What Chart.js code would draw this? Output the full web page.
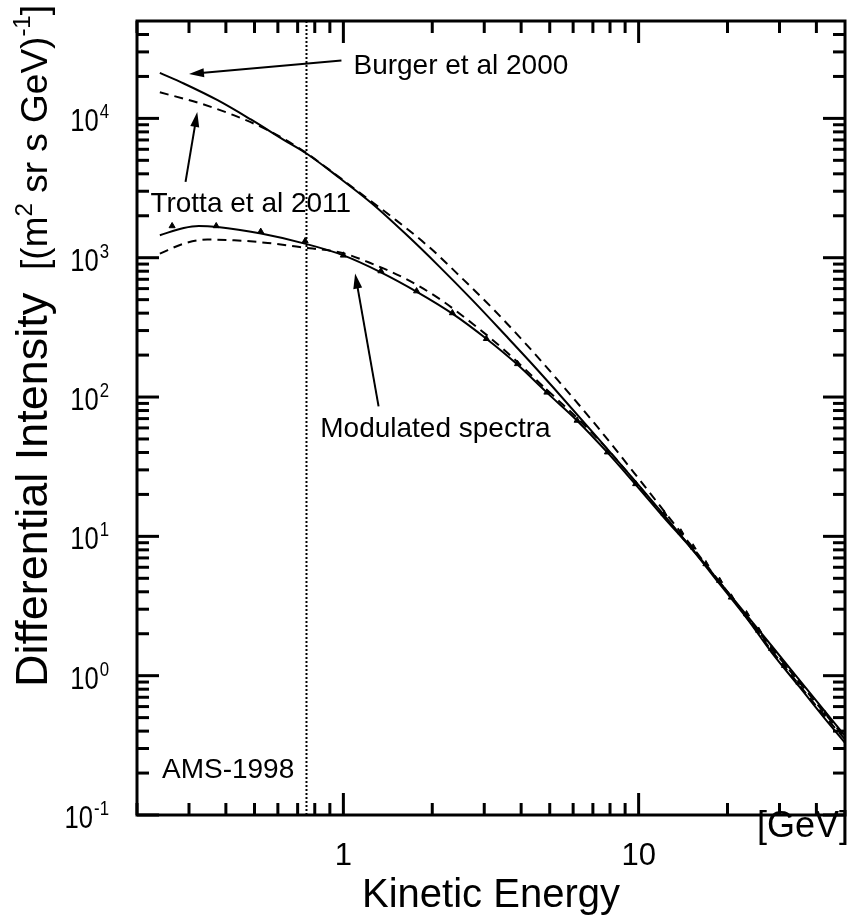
<!DOCTYPE html>
<html lang="en">
<head>
<meta charset="UTF-8">
<title>Differential Intensity vs Kinetic Energy</title>
<script src="https://cdn.jsdelivr.net/npm/chart.js"></script>
<style>
  html, body { margin: 0; padding: 0; background: #fff; }
  #wrap { width: 852px; height: 920px; }
</style>
</head>
<body>
<div id="wrap"><canvas id="spectra" width="852" height="920"></canvas></div>
<script>
// Values. Energy in GeV, intensity in (m^2 sr s GeV)^-1
const burgerE   = [0.239, 0.288, 0.375, 0.486, 0.632, 0.75, 0.96, 1.25, 1.62, 2.11, 2.74, 3.56, 4.28, 5.14, 7.62, 9.9, 12.2, 18.6, 28.2, 42.9, 50];
const burgerLIS = [21200, 17800, 13500, 9820, 6960, 5600, 3800, 2450, 1490, 867, 494, 274, 180, 117, 45.4, 23.9, 14.2, 4.83, 1.64, 0.55, 0.37];

const trottaE   = [0.239, 0.328, 0.427, 0.555, 0.711, 0.9, 1.125, 1.46, 1.95, 2.53, 3.21, 4.17, 5.28, 7.23, 9.9, 12.5, 18.6, 28.2, 42.9, 50];
const trottaLIS = [15400, 12800, 10500, 8220, 6080, 4250, 2970, 1960, 1194, 708, 430, 238, 135, 61.5, 26.7, 14.2, 4.86, 1.58, 0.53, 0.36];

const burgerModE = [0.239, 0.288, 0.324, 0.375, 0.526, 0.74, 1.0, 1.335, 1.78, 2.34, 3.05, 3.86, 4.88, 6.18, 7.82, 9.77, 12.2, 15.3, 18.8, 23.2, 28.2, 34.9, 42.8, 50];
const burgerMod  = [1450, 1635, 1690, 1660, 1490, 1262, 1040, 789, 567, 397, 262, 173, 108, 67.9, 40.2, 23.5, 13.6, 7.9, 4.55, 2.6, 1.47, 0.84, 0.49, 0.33];

const trottaModE = [0.239, 0.288, 0.346, 0.427, 0.555, 0.711, 1.0, 1.217, 1.62, 2.11, 2.74, 3.47, 4.88, 6.18, 7.82, 9.77, 12.2, 18.8, 28.2, 42.8, 50];
const trottaMod  = [1070, 1262, 1350, 1334, 1276, 1194, 1075, 927, 708, 508, 336, 222, 113, 71, 42.5, 24.5, 14.0, 4.7, 1.52, 0.51, 0.35];

// AMS-1998 proton data
const amsE    = [0.263, 0.371, 0.525, 0.742, 1.0, 1.34, 1.77, 2.34, 3.05, 3.89, 4.89, 6.19, 7.84, 9.77, 12.2, 13.9, 15.3, 16.9, 18.8, 20.6, 23.2, 25.5, 28.2, 31.2, 34.9, 42.8];
const amsFlux = [1690, 1690, 1540, 1318, 1040, 802, 576, 401, 262, 173, 108, 67.9, 40.2, 23.8, 14.5, 10.7, 8.35, 6.34, 4.81, 3.65, 2.77, 2.11, 1.56, 1.18, 0.895, 0.53];

const cutoffE = 0.75;   // dotted vertical line

// axis ticks
const xMajor = [1, 10];
const xMajorLabels = ['1', '10'];
const xMinor = [0.2, 0.3, 0.4, 0.5, 0.6, 0.7, 0.8, 0.9, 2, 3, 4, 5, 6, 7, 8, 9, 20, 30, 40];
const yMajor = [0.1, 1, 10, 100, 1000, 10000];
const yExponents = ['-1', '0', '1', '2', '3', '4'];
const yMinorMult = [2, 3, 4, 5, 6, 7, 8, 9];

// text notes: text anchor and arrow (from -> to), all in data units
const notes = [
  { text: 'Burger et al 2000', at: [1.082, 20800], from: [0.985, 26000], to: [0.300, 20800] },
  { text: 'Trotta et al 2011', at: [0.222, 2130], from: [0.292, 3500], to: [0.320, 11100] },
  { text: 'Modulated spectra', at: [0.835, 51.3], from: [1.316, 85.6], to: [1.096, 769] },
  { text: 'AMS-1998', at: [0.243, 0.185] }
];

const FONT = '"Liberation Sans", Arial, Helvetica, sans-serif';

function pts(xs, ys) {
  return xs.map((x, i) => ({ x: x, y: ys[i] }));
}

function arrow(ctx, x1, y1, x2, y2) {
  const a = Math.atan2(y2 - y1, x2 - x1);
  const len = 15, half = 4.5;
  ctx.beginPath();
  ctx.moveTo(x1, y1);
  ctx.lineTo(x2 - Math.cos(a) * len * 0.8, y2 - Math.sin(a) * len * 0.8);
  ctx.stroke();
  ctx.beginPath();
  ctx.moveTo(x2, y2);
  ctx.lineTo(x2 - Math.cos(a) * len - Math.sin(a) * half, y2 - Math.sin(a) * len + Math.cos(a) * half);
  ctx.lineTo(x2 - Math.cos(a) * len + Math.sin(a) * half, y2 - Math.sin(a) * len - Math.cos(a) * half);
  ctx.closePath();
  ctx.fill();
}

const extras = {
  id: 'extras',
  beforeDatasetsDraw(chart) {
    const { ctx, chartArea: ca, scales: { x } } = chart;
    const px = x.getPixelForValue(cutoffE);
    ctx.save();
    ctx.strokeStyle = '#000';
    ctx.lineWidth = 2;
    ctx.setLineDash([2, 2]);
    ctx.beginPath();
    ctx.moveTo(px, ca.top);
    ctx.lineTo(px, ca.bottom);
    ctx.stroke();
    ctx.restore();
  },
  afterDraw(chart) {
    const { ctx, chartArea: ca, scales: { x, y } } = chart;
    ctx.save();
    ctx.strokeStyle = '#000';
    ctx.fillStyle = '#000';
    ctx.lineWidth = 3;

    // frame
    ctx.strokeRect(ca.left, ca.top, ca.right - ca.left, ca.bottom - ca.top);

    // inward ticks on all four sides
    const tick = (x1, y1, x2, y2) => { ctx.beginPath(); ctx.moveTo(x1, y1); ctx.lineTo(x2, y2); ctx.stroke(); };
    xMajor.forEach(v => {
      const p = x.getPixelForValue(v);
      tick(p, ca.bottom, p, ca.bottom - 22);
      tick(p, ca.top, p, ca.top + 22);
    });
    xMinor.forEach(v => {
      const p = x.getPixelForValue(v);
      tick(p, ca.bottom, p, ca.bottom - 12);
      tick(p, ca.top, p, ca.top + 12);
    });
    yMajor.forEach(v => {
      const p = y.getPixelForValue(v);
      tick(ca.left, p, ca.left + 22, p);
      tick(ca.right, p, ca.right - 22, p);
      yMinorMult.forEach(m => {
        const mv = v * m;
        if (mv >= y.max) return;
        const q = y.getPixelForValue(mv);
        tick(ca.left, q, ca.left + 12, q);
        tick(ca.right, q, ca.right - 12, q);
      });
    });

    // x tick labels
    ctx.textBaseline = 'alphabetic';
    ctx.textAlign = 'center';
    ctx.font = '31px ' + FONT;
    xMajor.forEach((v, i) => {
      ctx.fillText(xMajorLabels[i], x.getPixelForValue(v), ca.bottom + 50);
    });

    // y tick labels 10^n, drawn a little narrow like the original
    const sx = 0.8;
    yMajor.forEach((v, i) => {
      const p = y.getPixelForValue(v);
      ctx.font = '32px ' + FONT;
      const wb = ctx.measureText('10').width * sx;
      ctx.font = '21px ' + FONT;
      const we = ctx.measureText(yExponents[i]).width * sx;
      const right = ca.left - 28;
      const left = right - wb - we - 1;
      ctx.save();
      ctx.translate(left, p);
      ctx.scale(sx, 1);
      ctx.textAlign = 'left';
      ctx.font = '32px ' + FONT;
      ctx.fillText('10', 0, 13);
      ctx.font = '21px ' + FONT;
      ctx.fillText(yExponents[i], (wb + 1) / sx, 0);
      ctx.restore();
    });

    // axis titles
    ctx.font = '40px ' + FONT;
    ctx.textAlign = 'center';
    ctx.fillText('Kinetic Energy', (ca.left + ca.right) / 2, ca.bottom + 92);
    ctx.font = '36px ' + FONT;
    ctx.textAlign = 'right';
    ctx.fillText('[GeV]', ca.right + 4, ca.bottom + 22);

    // rotated y title, built from pieces so the exponents can be raised
    const parts = [
      { t: 'Differential Intensity ', s: 45, r: 0 },
      { t: ' [(m', s: 37, r: 0 },
      { t: '2', s: 24, r: 15 },
      { t: ' sr s GeV)', s: 37, r: 0 },
      { t: '-1', s: 24, r: 17 },
      { t: ']', s: 37, r: 0 }
    ];
    ctx.save();
    ctx.translate(47, ca.top - 16);
    ctx.rotate(-Math.PI / 2);
    ctx.textAlign = 'left';
    let total = 0;
    parts.forEach(pt => { ctx.font = pt.s + 'px ' + FONT; total += ctx.measureText(pt.t).width; });
    let cx = -total;
    parts.forEach(pt => {
      ctx.font = pt.s + 'px ' + FONT;
      ctx.fillText(pt.t, cx, -pt.r);
      cx += ctx.measureText(pt.t).width;
    });
    ctx.restore();

    // notes and arrows
    ctx.lineWidth = 2;
    ctx.textAlign = 'left';
    ctx.font = '28px ' + FONT;
    notes.forEach(n => {
      ctx.fillText(n.text, x.getPixelForValue(n.at[0]), y.getPixelForValue(n.at[1]));
      if (n.from) {
        arrow(ctx,
          x.getPixelForValue(n.from[0]), y.getPixelForValue(n.from[1]),
          x.getPixelForValue(n.to[0]), y.getPixelForValue(n.to[1]));
      }
    });
    ctx.restore();
  }
};

const lineStyle = {
  showLine: true,
  borderColor: '#000',
  borderWidth: 2,
  pointRadius: 0,
  fill: false,
  cubicInterpolationMode: 'monotone'
};

new Chart(document.getElementById('spectra'), {
  type: 'scatter',
  data: {
    datasets: [
      Object.assign({ label: 'Burger et al 2000 LIS', data: pts(burgerE, burgerLIS) }, lineStyle),
      Object.assign({ label: 'Trotta et al 2011 LIS', data: pts(trottaE, trottaLIS), borderDash: [9, 6] }, lineStyle),
      Object.assign({ label: 'Modulated (Burger)', data: pts(burgerModE, burgerMod) }, lineStyle),
      Object.assign({ label: 'Modulated (Trotta)', data: pts(trottaModE, trottaMod), borderDash: [9, 6] }, lineStyle),
      {
        label: 'AMS-1998',
        data: pts(amsE, amsFlux),
        showLine: false,
        pointStyle: 'triangle',
        pointRadius: 3.5,
        backgroundColor: '#000',
        borderColor: '#000',
        borderWidth: 1
      }
    ]
  },
  options: {
    responsive: false,
    animation: false,
    layout: { padding: { left: 137, right: 7, top: 21, bottom: 105 } },
    plugins: { legend: { display: false }, tooltip: { enabled: false } },
    scales: {
      x: { type: 'logarithmic', min: 0.2, max: 50, display: false },
      y: { type: 'logarithmic', min: 0.1, max: 50000, display: false }
    }
  },
  plugins: [extras]
});
</script>
</body>
</html>
